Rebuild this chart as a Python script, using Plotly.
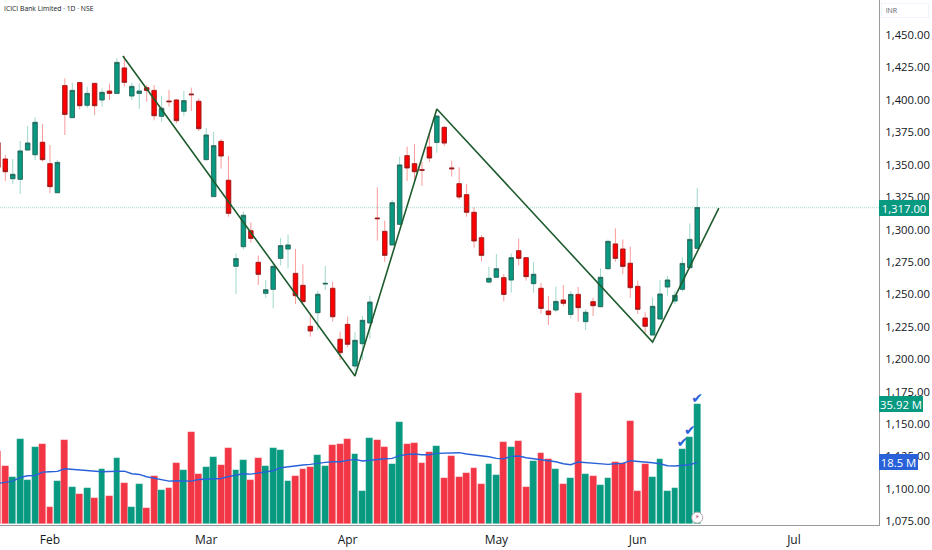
import plotly.graph_objects as go

opens = [1367.0,1354.4,1339.2,1338.7,1361.3,1357.7,1367.3,1350.8,1328.4,1411.0,1386.3,1413.3,1395.8,1412.7,1399.9,1406.8,1405.0,1424.6,1403.0,1405.0,1409.4,1407.3,1387.3,1399.1,1399.9,1391.2,1404.5,1398.9,1353.9,1325.4,1368.0,1338.0,1271.7,
1286.8,1299.1,1274.7,1250.8,1253.9,1277.8,1285.0,1266.2,1257.0,1225.4,1235.9,1258.0,1254.7,1215.4,1226.9,1194.8,1212.0,1228.0,1308.9,1298.6,1288.1,1304.0,1357.0,1350.8,1346.2,1363.6,1367.2,1378.8,1347.5,1335.4,1326.9,
1313.3,1293.7,1259.5,1263.2,1262.9,1261.1,1283.7,1278.3,1258.3,1254.7,1237.2,1238.0,1245.7,1234.6,1250.0,1229.0,1244.4,1240.5,1269.8,1288.9,1285.0,1274.0,1256.2,1231.8,1218.7,1231.0,1255.7,1244.9,1253.9,1270.6,1285.5]
highs = [1370.0,1357.5,1354.4,1368.3,1379.8,1386.5,1381.4,1365.2,1353.6,1416.6,1413.3,1413.5,1410.2,1413.3,1408.9,1412.5,1432.3,1433.8,1413.3,1412.7,1411.5,1411.5,1403.2,1407.6,1400.4,1406.8,1409.4,1401.2,1378.3,1375.2,1369.8,1356.7,1281.7,
1313.8,1305.6,1279.9,1261.1,1274.0,1293.5,1296.1,1285.0,1273.2,1234.1,1252.6,1271.9,1259.8,1221.3,1232.8,1220.8,1233.3,1249.0,1332.5,1306.8,1322.8,1356.2,1363.9,1366.0,1352.3,1375.0,1388.3,1379.8,1353.1,1348.0,1335.1,
1317.1,1295.8,1271.4,1281.1,1265.7,1281.6,1293.0,1278.6,1275.0,1259.0,1248.8,1256.0,1257.2,1252.6,1255.7,1238.5,1247.5,1270.1,1292.4,1300.9,1292.4,1286.8,1260.6,1236.2,1247.7,1261.1,1264.2,1252.6,1278.6,1304.8,1332.0]
lows = [1345.0,1337.4,1335.1,1327.4,1361.3,1353.6,1352.4,1327.9,1328.4,1372.9,1386.0,1392.7,1393.7,1388.3,1394.8,1399.9,1405.0,1410.2,1399.9,1393.0,1398.6,1384.2,1383.2,1394.8,1381.9,1387.6,1391.4,1376.0,1353.6,1325.4,1347.0,1309.9,1250.3,
1284.8,1289.9,1257.3,1247.5,1239.3,1272.2,1270.1,1242.6,1243.9,1217.4,1222.5,1253.4,1229.0,1199.4,1209.2,1190.4,1199.4,1215.9,1291.4,1275.0,1288.1,1304.0,1337.4,1337.4,1333.6,1352.1,1359.3,1364.4,1340.8,1323.3,1309.9,
1286.0,1275.5,1258.5,1263.2,1244.6,1251.3,1272.4,1260.6,1251.3,1235.1,1226.4,1236.2,1241.0,1231.3,1229.0,1222.5,1233.3,1240.5,1269.8,1275.2,1265.7,1247.5,1234.9,1219.5,1218.7,1230.8,1249.0,1242.6,1252.1,1270.1,1285.5]
closes = [1348.0,1344.6,1342.6,1360.6,1366.7,1382.7,1353.9,1333.1,1351.8,1388.8,1407.3,1395.5,1405.0,1395.5,1405.8,1405.0,1428.9,1413.5,1410.4,1406.8,1407.3,1387.8,1393.5,1398.6,1384.0,1399.4,1404.0,1377.8,1372.9,1364.7,1356.7,1312.5,1277.6,
1311.0,1293.2,1265.5,1253.6,1271.6,1287.6,1288.1,1249.0,1244.4,1221.8,1250.1,1258.5,1232.8,1205.1,1211.5,1214.6,1230.0,1244.1,1308.4,1280.1,1320.7,1349.8,1347.5,1344.6,1345.7,1355.2,1387.5,1366.7,1346.9,1325.1,1313.3,
1291.2,1280.1,1262.4,1269.8,1250.0,1278.3,1277.8,1263.7,1265.5,1239.2,1234.4,1244.6,1243.1,1250.0,1239.8,1236.2,1241.3,1263.2,1290.9,1277.8,1271.6,1255.2,1238.5,1225.4,1240.8,1250.3,1261.1,1249.3,1273.9,1292.4,1317.0]
volumes = [21.9,17.3,14.0,25.4,13.2,23.2,24.0,5.1,12.9,25.1,11.1,9.2,10.8,8.0,16.6,8.6,19.7,12.4,5.1,11.9,4.9,14.4,10.3,10.8,18.4,16.3,27.5,15.1,17.0,20.1,17.7,22.8,16.1,
19.2,13.2,19.7,17.3,22.8,22.3,13.0,14.4,16.5,17.2,20.8,17.3,23.7,24.0,25.6,20.9,10.1,25.7,25.2,23.0,18.1,30.6,23.9,24.2,18.2,21.6,23.3,13.7,20.3,14.0,15.4,
16.8,11.9,17.9,14.6,24.5,23.0,25.0,11.2,19.0,21.2,19.5,16.6,11.9,13.9,39.1,14.9,14.4,11.6,13.9,18.5,18.3,31.0,9.95,18.0,14.1,19.5,10.1,10.8,22.5,26.1,35.92]
vol_ma = [12.2,12.6,12.9,14.0,14.5,14.6,15.6,15.7,15.8,16.6,16.4,16.1,15.9,15.7,15.7,15.8,15.8,15.9,15.1,14.9,14.2,13.8,13.5,12.9,13.0,12.9,12.9,13.4,13.5,13.4,13.7,14.3,14.7,
15.1,15.0,15.4,15.6,16.0,16.9,17.2,17.6,17.7,17.9,18.3,18.5,18.7,18.7,19.1,19.4,18.9,19.2,19.4,19.6,19.7,20.5,20.9,21.0,20.8,20.8,21.2,21.3,21.5,21.4,21.0,
20.8,20.5,20.2,19.7,19.6,20.3,20.4,19.9,19.6,19.4,19.1,18.7,18.1,17.8,18.6,18.4,18.3,17.9,17.9,18.1,18.2,19.0,18.8,18.8,18.4,18.1,17.5,17.4,17.6,17.8,18.5]
assert len(opens)==len(highs)==len(lows)==len(closes)==len(volumes)==len(vol_ma)==95

zig_x = [16.8, 48.0, 59.0, 88.0, 96.9]
zig_y = [1433.8, 1187.1, 1392.9, 1213.3, 1316.6]
month_ticks = [7, 28, 47, 67, 86, 107]
month_labels = ["Feb", "Mar", "Apr", "May", "Jun", "Jul"]
price_ticks = list(range(1075, 1475, 25))
last_price = 1317.0
last_vol = 35.92
last_ma = 18.5
check_idx = [92, 93, 94]

UP = "#089981"; DOWN = "#ff0000"
VUP = "#089981"; VDOWN = "#f23645"
BLUE = "#2962d8"
TXT = "#131722"
FONT = "Open Sans"
xs = list(range(95))

fig = go.Figure()
fig.add_trace(go.Candlestick(x=xs, open=opens, high=highs, low=lows, close=closes,
    increasing=dict(line=dict(color="#9fd8cc", width=1), fillcolor="#9fd8cc"),
    decreasing=dict(line=dict(color="#fb9a9a", width=1), fillcolor="#fb9a9a"),
    showlegend=False, hoverinfo="skip"))
fig.add_trace(go.Candlestick(x=xs, open=opens, close=closes,
    high=[max(a, b) for a, b in zip(opens, closes)],
    low=[min(a, b) for a, b in zip(opens, closes)],
    increasing=dict(line=dict(color="#2b5f56", width=0.8), fillcolor=UP),
    decreasing=dict(line=dict(color="#8c1d1d", width=0.8), fillcolor=DOWN),
    showlegend=False, hoverinfo="skip"))
fig.add_trace(go.Scatter(x=zig_x, y=zig_y, mode="lines",
    line=dict(color="#1e5c2e", width=1.6), showlegend=False, hoverinfo="skip"))

fig.add_trace(go.Bar(x=xs, y=volumes, yaxis="y2", width=0.92,
    marker=dict(color=[VUP if c >= o else VDOWN for o, c in zip(opens, closes)],
                line=dict(color="rgba(255,255,255,0.35)", width=0.6)),
    showlegend=False, hoverinfo="skip"))
fig.add_trace(go.Scatter(x=xs, y=vol_ma, yaxis="y2", mode="lines",
    line=dict(color=BLUE, width=1.4), showlegend=False, hoverinfo="skip"))
fig.add_trace(go.Scatter(x=check_idx, y=[volumes[i] + 1.5 for i in check_idx], yaxis="y2",
    mode="text", text=["✔"] * 3, textposition="middle center",
    textfont=dict(color=BLUE, size=14, family="DejaVu Sans"),
    showlegend=False, hoverinfo="skip"))
fig.add_trace(go.Scatter(x=[94], y=[2.0], yaxis="y2", mode="markers+text", text=["⚡"],
    textposition="middle center", textfont=dict(color="#c2185b", size=7, family="DejaVu Sans"),
    marker=dict(size=11, color="white", line=dict(color="#b9a7ad", width=1)),
    showlegend=False, hoverinfo="skip"))

def tag(y, yref, text, fill, w):
    return dict(xref="paper", x=879/932, xanchor="left", yref=yref, y=y, yanchor="middle",
                text=text, showarrow=False, font=dict(color="white", size=11.3, family=FONT),
                bgcolor=fill, bordercolor=fill, borderwidth=0, borderpad=0, width=w, height=16, align="center")

fig.update_layout(
    width=932, height=550, margin=dict(l=0, r=0, t=0, b=0, autoexpand=False),
    paper_bgcolor="white", plot_bgcolor="white",
    font=dict(family=FONT, color=TXT, size=12),
    boxgap=0.15, boxmode="overlay", bargap=0, barmode="overlay",
    xaxis=dict(domain=[0, 879/932], range=[0.284, 118.43], rangeslider=dict(visible=False),
               automargin=False,
               tickmode="array", tickvals=month_ticks, ticktext=month_labels,
               showgrid=False, zeroline=False, showline=True, linecolor="#9a9a9a", linewidth=1,
               ticks="outside", ticklen=4, tickcolor="rgba(0,0,0,0)",
               tickfont=dict(size=12, family=FONT, color=TXT)),
    yaxis=dict(domain=[25/550, 1], range=[1072.2, 1477], side="right", anchor="x",
               automargin=False,
               tickmode="array", tickvals=price_ticks, tickformat=",.2f",
               showgrid=False, zeroline=False, showline=True, linecolor="#9a9a9a", linewidth=1,
               ticks="outside", ticklen=3, tickcolor="rgba(0,0,0,0)",
               tickfont=dict(size=11.3, family=FONT, color=TXT)),
    yaxis2=dict(domain=[25/550, 1], range=[-0.2, 156.6], overlaying="y", side="left", visible=False,
                automargin=False),
    shapes=[dict(type="line", xref="paper", x0=0, x1=879/932, yref="y", y0=last_price, y1=last_price,
                 line=dict(color="rgba(8,153,129,0.28)", width=1.5, dash="1px,1px"))],
    annotations=[
        dict(xref="paper", yref="paper", x=2/932, y=1-9/550, xanchor="left", yanchor="middle",
             text="ICICI Bank Limited · 1D · NSE", showarrow=False,
             font=dict(size=6.8, family=FONT, color=TXT)),
        dict(xref="paper", yref="paper", x=881/932, y=1-10/550, xanchor="left", yanchor="middle",
             text="&nbsp;&nbsp;INR", showarrow=False, width=46, height=13, align="left",
             font=dict(size=7, family=FONT, color="#5d606b"),
             bordercolor="#f0f3fa", borderwidth=1, borderpad=0),
        tag(last_price, "y", f"{last_price:,.2f}", UP, 50),
        tag(last_vol, "y2", f"{last_vol} M", UP, 44),
        tag(last_ma, "y2", f"{last_ma} M", BLUE, 39),
    ],
)
fig.write_html("out.html", config={"displayModeBar": False},
               post_script="document.body.style.margin='0';document.documentElement.style.overflow='hidden';")
